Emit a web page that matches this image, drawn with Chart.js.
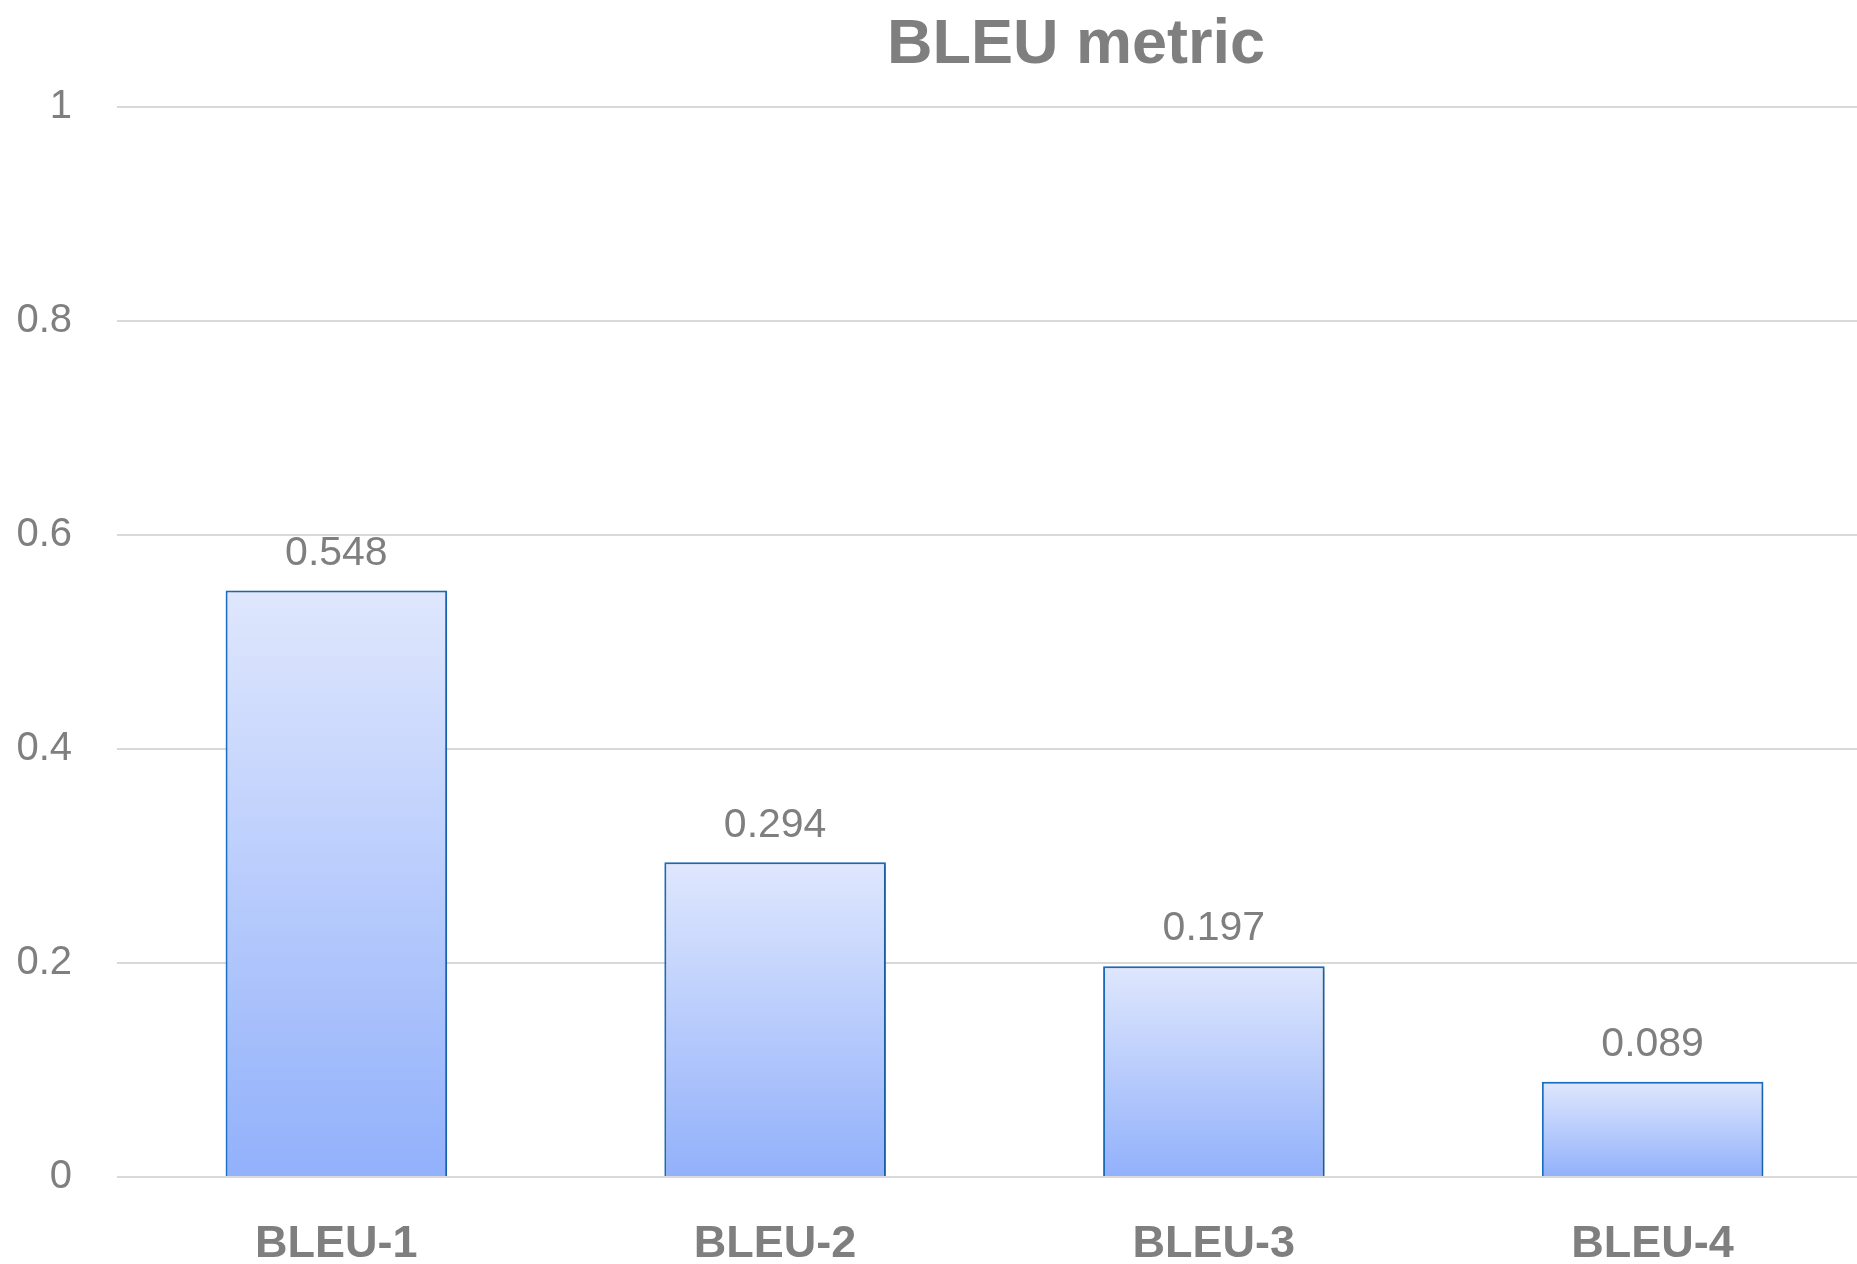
<!DOCTYPE html>
<html>
<head>
<meta charset="utf-8">
<script src="https://cdn.jsdelivr.net/npm/chart.js@4/dist/chart.umd.min.js"></script>
<style>
  html, body { margin: 0; padding: 0; background: #fff; overflow: hidden; }
  #wrap { width: 2152px; height: 1264px; }
</style>
</head>
<body>
<div id="wrap"><canvas id="chart" width="2152" height="1264"></canvas></div>
<script>
// data
var categories = ['BLEU-1', 'BLEU-2', 'BLEU-3', 'BLEU-4'];
var bleuScores = [0.548, 0.294, 0.197, 0.089];
var yTicks = [0, 0.2, 0.4, 0.6, 0.8, 1];

var fontName = '"Liberation Sans Narrow", "Arial Narrow", "Liberation Sans", sans-serif';
var gray = '#7f7f7f';
var barTop = 'rgb(223, 231, 253)';
var barBottom = 'rgb(146, 177, 251)';
var barEdge = '#1b6ec2';

function barGradient(context) {
  var chart = context.chart;
  if (!chart.chartArea || context.type !== 'data') return barTop;
  var y = chart.scales.y;
  var top = y.getPixelForValue(context.raw);
  var bottom = y.getPixelForValue(0);
  var g = chart.ctx.createLinearGradient(0, top, 0, bottom);
  g.addColorStop(0, barTop);
  g.addColorStop(1, barBottom);
  return g;
}

// soft shadow under the bars
var barShadow = {
  id: 'barShadow',
  beforeDatasetsDraw: function (chart) {
    var c = chart.ctx;
    c.save();
    c.shadowColor = 'rgba(0,0,0,0.22)';
    c.shadowBlur = 5;
    c.shadowOffsetX = 2;
    c.shadowOffsetY = 1;
  },
  afterDatasetsDraw: function (chart) {
    chart.ctx.restore();
  }
};

// value labels above bars
var valueLabels = {
  id: 'valueLabels',
  afterDatasetsDraw: function (chart) {
    var c = chart.ctx;
    var meta = chart.getDatasetMeta(0);
    c.save();
    c.font = '41px ' + fontName;
    c.fillStyle = gray;
    c.textAlign = 'center';
    c.textBaseline = 'middle';
    meta.data.forEach(function (bar, i) {
      c.fillText(bleuScores[i].toFixed(3), bar.x, bar.y - 37);
    });
    c.restore();
  }
};

Chart.defaults.font.family = fontName;

var chart = new Chart(document.getElementById('chart'), {
  type: 'bar',
  data: {
    labels: categories,
    datasets: [{
      data: bleuScores,
      backgroundColor: barGradient,
      borderColor: barEdge,
      borderWidth: 2,
      borderSkipped: 'start',
      categoryPercentage: 1,
      barPercentage: 0.505
    }]
  },
  options: {
    responsive: false,
    animation: false,
    devicePixelRatio: 1,
    plugins: {
      legend: { display: false },
      tooltip: { enabled: false },
      title: {
        display: true,
        text: 'BLEU metric',
        color: gray,
        font: { size: 63, weight: 'bold', lineHeight: 1.2 },
        padding: { top: 8, bottom: 23 }
      }
    },
    scales: {
      x: {
        grid: { display: false },
        border: { display: false },
        ticks: {
          color: gray,
          font: { size: 45, weight: 'bold' },
          padding: 33
        },
        afterFit: function (axis) { axis.height = 87; }
      },
      y: {
        min: 0,
        max: 1,
        afterBuildTicks: function (axis) {
          axis.ticks = yTicks.map(function (v) { return { value: v }; });
        },
        grid: { color: '#d9d9d9', lineWidth: 2, drawTicks: false },
        border: { display: false },
        ticks: {
          color: gray,
          font: { size: 40 },
          padding: 45,
          callback: function (v) { return String(v); }
        },
        afterFit: function (axis) { axis.width = 117; }
      },
      // empty strip on the right, the picture is cut off there
      yRight: {
        position: 'right',
        grid: { display: false },
        border: { display: false },
        ticks: { display: false },
        afterFit: function (axis) { axis.width = 280; }
      }
    }
  },
  plugins: [barShadow, valueLabels]
});
</script>
</body>
</html>
